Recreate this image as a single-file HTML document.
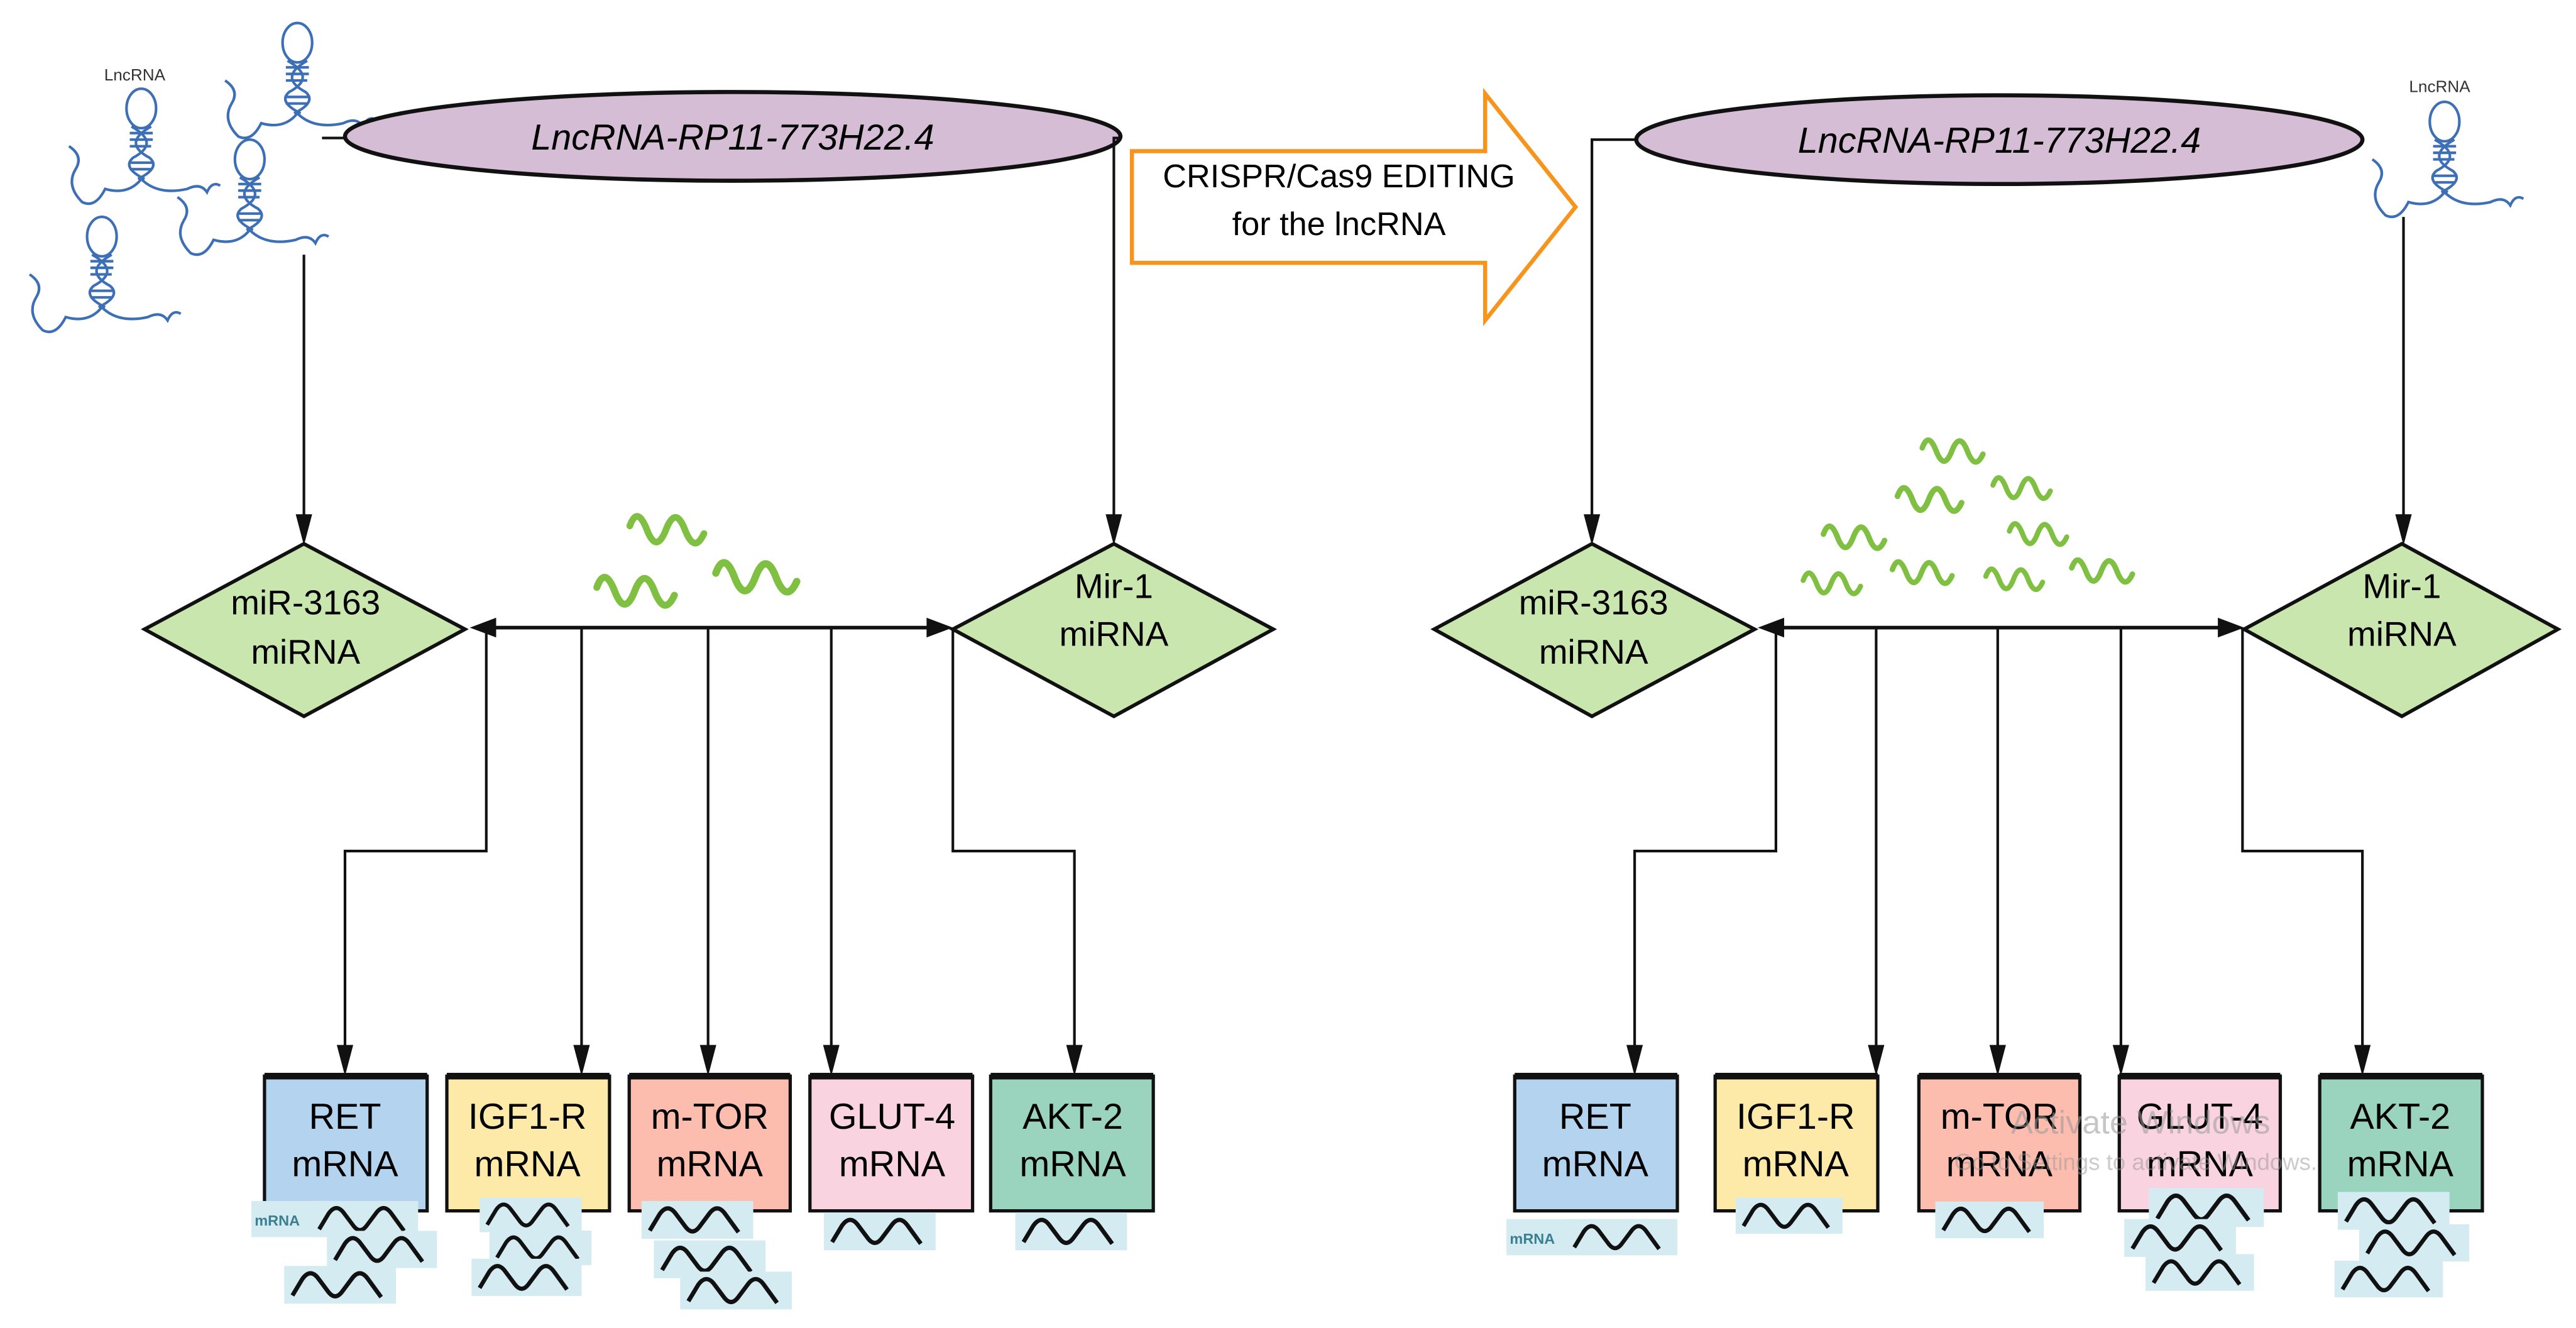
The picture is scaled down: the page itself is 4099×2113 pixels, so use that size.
<!DOCTYPE html>
<html><head><meta charset="utf-8"><style>
html,body{margin:0;padding:0;background:#fff;}
svg{display:block;}
text{font-family:"Liberation Sans",sans-serif;}
</style></head><body>
<svg width="4099" height="2113" viewBox="0 0 1568 808.3" preserveAspectRatio="none" xmlns="http://www.w3.org/2000/svg">
<defs>
<symbol id="mr" viewBox="0 0 68 23" overflow="visible">
<rect x="0" y="0" width="68" height="23" fill="#d4ebf2"/>
<path d="M5,18 L11,8 Q16,1 21,8 L27,16 Q31,21 35,16 L41,8 Q46,1 51,8 L59,19" fill="none" stroke="#111" stroke-width="2.6"/>
</symbol>
<symbol id="gw" viewBox="0 0 44 19" overflow="visible">
<path d="M2,7 Q6,-4 11,9 Q16,22 21,9 Q26,-4 31,9 Q36,22 41,11" fill="none" stroke="#7fc043" stroke-width="3.5" stroke-linecap="round"/>
</symbol>
<g id="dna" fill="none" stroke="#3d6fb6" stroke-width="1.6">
<ellipse cx="0" cy="11" rx="9" ry="12"/>
<path d="M-6,22 Q12,32 -5,41 Q-12,47 2,54"/>
<path d="M6,22 Q-12,32 5,41 Q12,47 -2,54"/>
<path d="M-7,26 H7 M-7,30 H7 M-7,34 H6 M-7,44 H7 M-7,48 H6"/>
<path d="M0,54 Q-8,64 -22,60 Q-28,72 -36,68 Q-46,58 -40,48 Q-35,40 -44,34"/>
<path d="M0,54 Q10,64 28,60 Q36,56 40,62 Q43,55 48,58"/>
</g>
</defs>

<!-- ===== LEFT ===== -->
<text x="82" y="49" font-size="10" text-anchor="middle" fill="#333">LncRNA</text>
<use href="#dna" x="181" y="15"/>
<use href="#dna" x="86" y="55"/>
<use href="#dna" x="152" y="86"/>
<use href="#dna" x="62" y="133"/>

<ellipse cx="446" cy="83" rx="236" ry="27" fill="#d5bdd5" stroke="#111" stroke-width="2.5"/>
<text x="446" y="91" font-size="22" font-style="italic" text-anchor="middle">LncRNA-RP11-773H22.4</text>
<path d="M196,84 H211 M681,84 H678 V322" fill="none" stroke="#111" stroke-width="1.6"/>
<path d="M185,155 V322" fill="none" stroke="#111" stroke-width="1.6"/>
<path d="M180,313 L190,313 L185,332 Z M673,313 L683,313 L678,332 Z" fill="#111"/>

<polygon points="88,383 185,331 283,383 185,436" fill="#c8e6ad" stroke="#111" stroke-width="2.2"/>
<polygon points="580,383 678,331 775,383 678,436" fill="#c8e6ad" stroke="#111" stroke-width="2.2"/>
<text x="186" y="374" font-size="21" text-anchor="middle">miR-3163</text>
<text x="186" y="404" font-size="21" text-anchor="middle">miRNA</text>
<text x="678" y="364" font-size="21" text-anchor="middle">Mir-1</text>
<text x="678" y="393" font-size="21" text-anchor="middle">miRNA</text>

<use href="#gw" x="378" y="312" width="57" height="22"/>
<use href="#gw" x="360" y="349" width="55" height="23"/>
<use href="#gw" x="432" y="340" width="58" height="24"/>

<path d="M300,382 H566" stroke="#111" stroke-width="2.2"/>
<path d="M286,382 L302,376 L302,388 Z M580,382 L564,376 L564,388 Z" fill="#111"/>
<path d="M296,382 V518 H210 V642 M354,382 V642 M431,382 V642 M506,382 V642 M580,382 V518 H654 V642" fill="none" stroke="#111" stroke-width="1.6"/>
<path d="M205,636 L215,636 L210,655 Z M349,636 L359,636 L354,655 Z M426,636 L436,636 L431,655 Z M501,636 L511,636 L506,655 Z M649,636 L659,636 L654,655 Z" fill="#111"/>

<g stroke="#111" stroke-width="2">
<rect x="161" y="655" width="99" height="82" fill="#b3d3ef"/>
<rect x="272" y="655" width="99" height="82" fill="#fde9a8"/>
<rect x="383" y="655" width="98" height="82" fill="#fcbcae"/>
<rect x="493" y="655" width="99" height="82" fill="#f9d3df"/>
<rect x="603" y="655" width="99" height="82" fill="#9ad4bf"/>
</g>
<path d="M161,655 H260 M272,655 H371 M383,655 H481 M493,655 H592 M603,655 H702" stroke="#111" stroke-width="4"/>
<g font-size="22" text-anchor="middle">
<text x="210" y="687">RET</text><text x="210" y="716">mRNA</text>
<text x="321" y="687">IGF1-R</text><text x="321" y="716">mRNA</text>
<text x="432" y="687">m-TOR</text><text x="432" y="716">mRNA</text>
<text x="543" y="687">GLUT-4</text><text x="543" y="716">mRNA</text>
<text x="653" y="687">AKT-2</text><text x="653" y="716">mRNA</text>
</g>
<rect x="153" y="731" width="50" height="22" fill="#d4ebf2"/>
<text x="155" y="746" font-size="9" font-weight="bold" fill="#3a8090">mRNA</text>
<use href="#mr" x="188" y="731" width="68" height="22"/>
<use href="#mr" x="199" y="749" width="67" height="23"/>
<use href="#mr" x="173" y="770" width="68" height="24"/>
<use href="#mr" x="287" y="729" width="72" height="21"/>
<use href="#mr" x="295" y="749" width="68" height="21"/>
<use href="#mr" x="287" y="766" width="67" height="23"/>
<use href="#mr" x="390" y="731" width="69" height="23"/>
<use href="#mr" x="398" y="755" width="68" height="23"/>
<use href="#mr" x="414" y="774" width="68" height="23"/>
<use href="#mr" x="501" y="738" width="69" height="23"/>
<use href="#mr" x="618" y="738" width="68" height="23"/>

<!-- ===== ARROW ===== -->
<polygon points="689,92 904,92 904,57 959,126 904,195 904,160 689,160" fill="#fff" stroke="#f7941d" stroke-width="2.5"/>
<text x="815" y="114" font-size="20" text-anchor="middle">CRISPR/Cas9 EDITING</text>
<text x="815" y="143" font-size="20" text-anchor="middle">for the lncRNA</text>

<!-- ===== RIGHT ===== -->
<ellipse cx="1217" cy="85" rx="221" ry="27" fill="#d5bdd5" stroke="#111" stroke-width="2.5"/>
<text x="1217" y="93" font-size="22" font-style="italic" text-anchor="middle">LncRNA-RP11-773H22.4</text>
<text x="1485" y="56" font-size="10" text-anchor="middle" fill="#333">LncRNA</text>
<use href="#dna" x="1488" y="63"/>
<path d="M996,85 H969 V322 M1463,132 V322" fill="none" stroke="#111" stroke-width="1.6"/>
<path d="M964,313 L974,313 L969,332 Z M1458,313 L1468,313 L1463,332 Z" fill="#111"/>

<polygon points="873,383 969,331 1068,383 969,436" fill="#c8e6ad" stroke="#111" stroke-width="2.2"/>
<polygon points="1366,383 1462,331 1557,383 1462,436" fill="#c8e6ad" stroke="#111" stroke-width="2.2"/>
<text x="970" y="374" font-size="21" text-anchor="middle">miR-3163</text>
<text x="970" y="404" font-size="21" text-anchor="middle">miRNA</text>
<text x="1462" y="364" font-size="21" text-anchor="middle">Mir-1</text>
<text x="1462" y="393" font-size="21" text-anchor="middle">miRNA</text>

<use href="#gw" x="1167" y="266" width="44" height="18"/>
<use href="#gw" x="1153" y="295" width="44" height="19"/>
<use href="#gw" x="1209" y="289" width="44" height="17"/>
<use href="#gw" x="1108" y="318" width="42" height="19"/>
<use href="#gw" x="1220" y="317" width="42" height="17"/>
<use href="#gw" x="1095" y="347" width="41" height="17"/>
<use href="#gw" x="1150" y="340" width="41" height="18"/>
<use href="#gw" x="1207" y="344" width="39" height="18"/>
<use href="#gw" x="1259" y="339" width="42" height="18"/>

<path d="M1084,382 H1352" stroke="#111" stroke-width="2.2"/>
<path d="M1070,382 L1086,376 L1086,388 Z M1366,382 L1350,376 L1350,388 Z" fill="#111"/>
<path d="M1081,382 V518 H995 V642 M1142,382 V642 M1216,382 V642 M1291,382 V642 M1365,382 V518 H1438 V642" fill="none" stroke="#111" stroke-width="1.6"/>
<path d="M990,636 L1000,636 L995,655 Z M1137,636 L1147,636 L1142,655 Z M1211,636 L1221,636 L1216,655 Z M1286,636 L1296,636 L1291,655 Z M1433,636 L1443,636 L1438,655 Z" fill="#111"/>

<g stroke="#111" stroke-width="2">
<rect x="922" y="655" width="99" height="82" fill="#b3d3ef"/>
<rect x="1044" y="655" width="99" height="82" fill="#fde9a8"/>
<rect x="1168" y="655" width="98" height="82" fill="#fcbcae"/>
<rect x="1290" y="655" width="98" height="82" fill="#f9d3df"/>
<rect x="1412" y="655" width="99" height="82" fill="#9ad4bf"/>
</g>
<path d="M922,655 H1021 M1044,655 H1143 M1168,655 H1266 M1290,655 H1388 M1412,655 H1511" stroke="#111" stroke-width="4"/>
<g font-size="22" text-anchor="middle">
<text x="971" y="687">RET</text><text x="971" y="716">mRNA</text>
<text x="1093" y="687">IGF1-R</text><text x="1093" y="716">mRNA</text>
<text x="1217" y="687">m-TOR</text><text x="1217" y="716">mRNA</text>
<text x="1339" y="687">GLUT-4</text><text x="1339" y="716">mRNA</text>
<text x="1461" y="687">AKT-2</text><text x="1461" y="716">mRNA</text>
</g>
<text x="1303" y="690" font-size="20" fill="#999" opacity="0.55" text-anchor="middle">Activate Windows</text>
<text x="1300" y="712" font-size="14" fill="#999" opacity="0.5" text-anchor="middle">Go to Settings to activate Windows.</text>

<rect x="917" y="742" width="104" height="22" fill="#d4ebf2"/>
<text x="919" y="757" font-size="9" font-weight="bold" fill="#3a8090">mRNA</text>
<use href="#mr" x="952" y="742" width="68" height="22"/>
<use href="#mr" x="1055" y="729" width="68" height="22"/>
<use href="#mr" x="1178" y="731" width="66" height="23"/>
<use href="#mr" x="1308" y="723" width="70" height="24"/>
<use href="#mr" x="1293" y="742" width="68" height="23"/>
<use href="#mr" x="1306" y="763" width="66" height="23"/>
<use href="#mr" x="1423" y="725" width="68" height="24"/>
<use href="#mr" x="1436" y="745" width="67" height="23"/>
<use href="#mr" x="1421" y="766" width="66" height="25"/>
</svg>
</body></html>
